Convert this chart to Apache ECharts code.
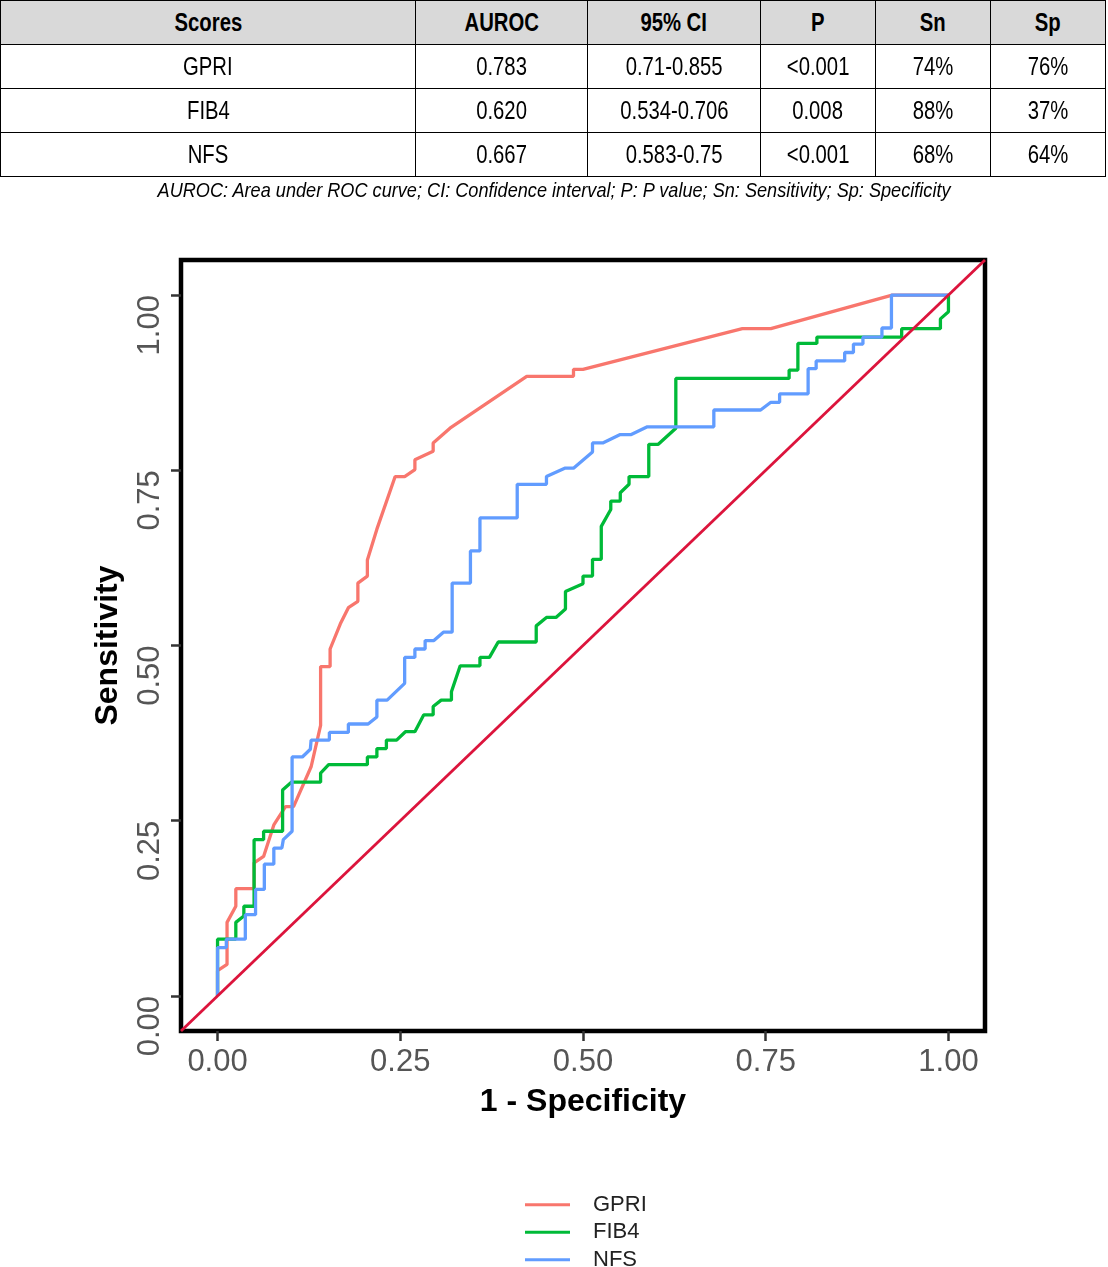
<!DOCTYPE html>
<html>
<head>
<meta charset="utf-8">
<script src="https://cdn.jsdelivr.net/npm/echarts@6/dist/echarts.min.js"></script>
<style>
html,body{margin:0;padding:0;width:1108px;height:1267px;overflow:hidden;background:#fff;}
#chart{position:absolute;left:0;top:0;width:1108px;height:1300px;}
#tbl{position:absolute;left:0;top:0;border-collapse:collapse;table-layout:fixed;
  font-family:'Liberation Sans',Arial,Helvetica,sans-serif;font-size:26px;color:#000;}
#tbl tr{height:44px;}
#tbl td,#tbl th{border:1.5px solid #000;text-align:center;padding:0;white-space:nowrap;overflow:visible;}
#tbl th{background:#d9d9d9;font-weight:bold;}
#tbl span{display:inline-block;transform:scaleX(0.78);transform-origin:center;}
#note{position:absolute;left:0;top:176px;width:1108px;height:28px;text-align:center;
  font-family:'Liberation Sans',Arial,Helvetica,sans-serif;font-style:italic;font-size:21px;line-height:28px;color:#000;white-space:nowrap;}
#note span{display:inline-block;transform-origin:center;}
</style>
</head>
<body>
<div id="chart"></div>
<table id="tbl"></table>
<div id="note"><span id="noteText"></span></div>
<script>
// ---------- table data ----------
const tableHeader = ['Scores', 'AUROC', '95% CI', 'P', 'Sn', 'Sp'];
const scoreNames = ['GPRI', 'FIB4', 'NFS'];
const aurocValues = ['0.783', '0.620', '0.667'];
const ciValues = ['0.71-0.855', '0.534-0.706', '0.583-0.75'];
const pValues = ['<0.001', '0.008', '<0.001'];
const snValues = ['74%', '88%', '68%'];
const spValues = ['76%', '37%', '64%'];
const footnote = 'AUROC: Area under ROC curve; CI: Confidence interval; P: P value; Sn: Sensitivity; Sp: Specificity';

// ---------- chart data: [1 - specificity, sensitivity] ----------
const gpriPoints = [[0,0],[0,0.036],[0.013,0.045],[0.013,0.105],[0.025,0.128],[0.025,0.153],[0.050,0.153],[0.050,0.190],[0.063,0.199],[0.077,0.244],[0.093,0.270],[0.104,0.270],[0.128,0.327],[0.141,0.386],[0.141,0.470],[0.154,0.470],[0.154,0.495],[0.168,0.531],[0.179,0.554],[0.192,0.563],[0.192,0.589],[0.205,0.599],[0.205,0.622],[0.218,0.666],[0.243,0.741],[0.256,0.741],[0.270,0.751],[0.270,0.765],[0.295,0.777],[0.295,0.789],[0.318,0.810],[0.423,0.884],[0.487,0.884],[0.487,0.894],[0.500,0.894],[0.718,0.952],[0.757,0.952],[0.923,1.0],[1.0,1.0]];
const fib4Points = [[0,0],[0,0.081],[0.025,0.081],[0.025,0.105],[0.036,0.114],[0.036,0.128],[0.050,0.128],[0.050,0.223],[0.063,0.223],[0.063,0.235],[0.089,0.235],[0.089,0.294],[0.101,0.305],[0.141,0.305],[0.141,0.318],[0.152,0.330],[0.205,0.330],[0.205,0.341],[0.218,0.341],[0.218,0.353],[0.231,0.353],[0.231,0.365],[0.245,0.365],[0.257,0.377],[0.270,0.377],[0.282,0.401],[0.295,0.401],[0.295,0.413],[0.306,0.422],[0.320,0.422],[0.320,0.434],[0.332,0.471],[0.359,0.471],[0.359,0.483],[0.372,0.483],[0.384,0.505],[0.436,0.505],[0.436,0.528],[0.450,0.540],[0.463,0.540],[0.476,0.552],[0.476,0.577],[0.500,0.588],[0.500,0.599],[0.513,0.599],[0.513,0.623],[0.525,0.623],[0.525,0.670],[0.538,0.694],[0.538,0.706],[0.551,0.706],[0.551,0.718],[0.563,0.730],[0.563,0.741],[0.590,0.741],[0.590,0.787],[0.603,0.787],[0.627,0.810],[0.627,0.881],[0.782,0.881],[0.782,0.893],[0.794,0.893],[0.794,0.931],[0.820,0.931],[0.820,0.940],[0.936,0.940],[0.936,0.952],[0.989,0.952],[0.989,0.966],[1.0,0.976],[1.0,1.0]];
const nfsPoints = [[0,0],[0,0.069],[0.012,0.069],[0.012,0.081],[0.038,0.081],[0.038,0.116],[0.052,0.116],[0.052,0.152],[0.064,0.152],[0.064,0.188],[0.077,0.188],[0.077,0.211],[0.088,0.211],[0.090,0.223],[0.102,0.235],[0.102,0.341],[0.116,0.341],[0.127,0.352],[0.128,0.365],[0.153,0.365],[0.153,0.376],[0.179,0.376],[0.179,0.388],[0.206,0.388],[0.218,0.398],[0.218,0.422],[0.232,0.422],[0.256,0.446],[0.256,0.483],[0.270,0.483],[0.270,0.495],[0.284,0.495],[0.284,0.507],[0.296,0.507],[0.309,0.519],[0.321,0.519],[0.321,0.589],[0.346,0.589],[0.346,0.635],[0.359,0.635],[0.359,0.682],[0.410,0.682],[0.410,0.730],[0.450,0.730],[0.450,0.741],[0.475,0.753],[0.487,0.753],[0.513,0.776],[0.513,0.789],[0.527,0.789],[0.551,0.801],[0.566,0.801],[0.588,0.812],[0.679,0.812],[0.679,0.836],[0.743,0.836],[0.757,0.847],[0.769,0.847],[0.769,0.859],[0.808,0.859],[0.808,0.895],[0.819,0.895],[0.819,0.906],[0.858,0.906],[0.858,0.918],[0.870,0.918],[0.870,0.930],[0.883,0.930],[0.883,0.940],[0.909,0.940],[0.909,0.953],[0.922,0.953],[0.922,1.0],[1.0,1.0]];
const diagonalPoints = [[-0.05,-0.05],[1.05,1.05]];
const tickValues = [0, 0.25, 0.5, 0.75, 1];
const seriesNames = ['GPRI', 'FIB4', 'NFS'];
const seriesColors = ['#F8766D', '#00BA38', '#619CFF'];

// ---------- build table ----------
const colWidths = [415, 172, 173, 115, 115, 115];
const esc = s => s.replace(/&/g,'&amp;').replace(/</g,'&lt;');
let html = '<colgroup>' + colWidths.map(w => '<col style="width:' + w + 'px">').join('') + '</colgroup>';
html += '<tr>' + tableHeader.map(h => '<th><span>' + esc(h) + '</span></th>').join('') + '</tr>';
for (let i = 0; i < scoreNames.length; i++) {
  const row = [scoreNames[i], aurocValues[i], ciValues[i], pValues[i], snValues[i], spValues[i]];
  html += '<tr>' + row.map(c => '<td><span>' + esc(c) + '</span></td>').join('') + '</tr>';
}
document.getElementById('tbl').innerHTML = html;
const noteEl = document.getElementById('noteText');
noteEl.textContent = footnote;
const natural = noteEl.getBoundingClientRect().width;
noteEl.style.transform = 'scaleX(' + (793 / natural) + ')';

// ---------- chart ----------
const fontA = "'Liberation Sans',Arial,Helvetica,sans-serif";
const chart = echarts.init(document.getElementById('chart'), null, {renderer: 'canvas'});
const curveSeries = [gpriPoints, fib4Points, nfsPoints].map((pts, i) => ({
  name: seriesNames[i], type: 'line', data: pts, symbol: 'none', showSymbol: false,
  lineStyle: {color: seriesColors[i], width: 3.3}, itemStyle: {color: seriesColors[i]},
  z: 2 + i, animation: false
}));
const axisCommon = {
  type: 'value', min: -0.05, max: 1.05,
  nameLocation: 'middle',
  nameTextStyle: {fontFamily: fontA, fontWeight: 'bold', fontSize: 32, color: '#000'},
  axisLine: {show: false, onZero: false}, splitLine: {show: false},
  axisTick: {show: true, length: 10, lineStyle: {color: '#333', width: 2.5}, customValues: tickValues}
};
chart.setOption({
  animation: false,
  backgroundColor: 'transparent',
  grid: {left: 181, top: 260, width: 804, height: 771, show: true, borderColor: '#000', borderWidth: 4.5, backgroundColor: 'transparent'},
  legend: {
    data: seriesNames, orient: 'vertical', left: 520, top: 1186,
    icon: 'rect', itemWidth: 45, itemHeight: 3, itemGap: 0,
    textStyle: {fontFamily: fontA, fontSize: 22, color: '#222', lineHeight: 27.5, padding: [0, 0, 0, 18]}
  },
  xAxis: Object.assign({}, axisCommon, {
    name: '1 - Specificity', nameGap: 55,
    axisLabel: {customValues: tickValues, formatter: v => v.toFixed(2), fontFamily: fontA, fontSize: 31, color: '#555', margin: 16}
  }),
  yAxis: Object.assign({}, axisCommon, {
    name: 'Sensitivity', nameGap: 57,
    axisLabel: {customValues: tickValues, formatter: v => v.toFixed(2), fontFamily: fontA, fontSize: 31, color: '#555', margin: 31, rotate: 90, align: 'right', verticalAlign: 'middle'}
  }),
  series: curveSeries.concat([{
    name: 'diagonal', type: 'line', data: diagonalPoints, symbol: 'none', silent: true,
    lineStyle: {color: '#DC143C', width: 2.8}, z: 6, animation: false
  }])
});
</script>
</body>
</html>
